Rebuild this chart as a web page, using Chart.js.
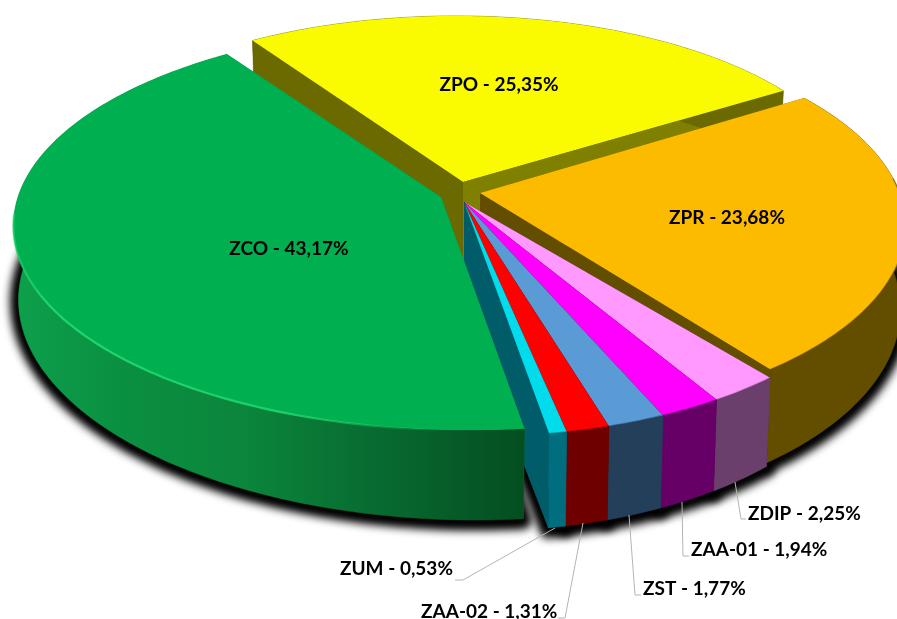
<!DOCTYPE html>
<html>
<head>
<meta charset="utf-8">
<style>html,body{margin:0;padding:0;background:#fff}canvas{display:block}</style>
<script src="https://cdn.jsdelivr.net/npm/chart.js@4"></script>
</head>
<body>
<canvas id="c" width="897" height="619"></canvas>
<script>
const categories = ['ZCO','ZPO','ZPR','ZDIP','ZAA-01','ZST','ZAA-02','ZUM'];
const shares = [43.17,25.35,23.68,2.25,1.94,1.77,1.31,0.53];
const topColors = ['#00B050','#FAFA00','#FDBB00','#FF99FF','#FF00FF','#5B9BD5','#FF0000','#00DCEC'];

// view parameters of each exploded slice (apex, radii, perspective, wall depth, depth under the apex)
const viewSmall = {ax:464,ay:202,R:388,Rv:169,k:.28,m:-.018,d:68,apd:108};
const views = [
  {ax:441,ay:197,R:445,Rv:198,k:.15,m:-.052,d:76,apd:80},
  {ax:463,ay:182,R:404,Rv:181,k:.09,m:.019,d:80,apd:80},
  {ax:480,ay:193,R:412,Rv:190,k:.165,m:-.018,d:80,apd:80},
  viewSmall,viewSmall,viewSmall,viewSmall,viewSmall
];
const sideColors = ['#0A8A3F','#6A6A00','#634E00','#6B3F6B','#660066','#243F5A','#6E0000','#006E7E'];
const cutColors = ['#0A8A3F','#6A6A00','#634E00','#6B3F6B','#660066','#243F5A','#6E0000','#005C68'];
const SHRINK = .988;
const paintOrder = [1,2,3,4,5,6,7,0];
// label layout: [text left, baseline] and leader polyline
const labelLayout = [
  {c:[289,249]},{c:[499,85]},{c:[727,218]},
  {l:[748,520],line:[[735,482],[741,519],[746,519]]},
  {l:[691,556],line:[[682,502],[683,556],[689,556]]},
  {l:[643,595],line:[[629,515],[635,595],[641,595]]},
  {l:[421,618],line:[[583,523],[565,618],[558,618]]},
  {l:[340,575],line:[[555,528],[463,580],[455,580]]}
];

function pt(v,th,bottom){
  const s=Math.sin(th),c=Math.cos(th),f=1/(1+v.k*c+v.m*s);
  const x=v.R*s*f,y=-v.Rv*c*f;
  return bottom?[v.ax+x*SHRINK,v.ay+y+v.d*f]:[v.ax+x,v.ay+y];
}
function arcPts(v,a,b,bottom){
  const n=Math.max(2,Math.ceil((b-a)/(Math.PI/180))),o=[];
  for(let i=0;i<=n;i++)o.push(pt(v,a+(b-a)*i/n,bottom));
  return o;
}
function poly(ctx,pts,open,dx){
  dx=dx||0;
  ctx.beginPath();pts.forEach((p,i)=>i?ctx.lineTo(p[0]+dx,p[1]):ctx.moveTo(p[0]+dx,p[1]));if(!open)ctx.closePath();
}
const RAD=Math.PI/180;
const pie3d={
  id:'pie3d',
  beforeDatasetsDraw(chart){
    const ctx=chart.ctx,arcs=chart.getDatasetMeta(0).data;
    const ang=arcs.map(e=>[e.startAngle+Math.PI/2,e.endAngle+Math.PI/2]);
    ctx.save();
    // soft cast shadow: shapes are painted off-canvas so only their blurred shadow lands on the page
    const FAR=3000;
    ctx.shadowColor='#000';ctx.shadowBlur=8;ctx.shadowOffsetX=FAR;ctx.shadowOffsetY=2;
    ctx.fillStyle='#000';ctx.strokeStyle='#000';ctx.lineWidth=17;ctx.lineJoin='round';
    ang.forEach((a,i)=>{
      const v=views[i];
      poly(ctx,[[v.ax,v.ay+v.apd],...arcPts(v,a[0],a[1],true)],false,-FAR);ctx.fill();ctx.stroke();
    });
    ctx.lineJoin='miter';
    ctx.shadowColor='transparent';ctx.shadowBlur=0;ctx.shadowOffsetX=0;ctx.shadowOffsetY=0;
    paintOrder.forEach(i=>{
      const v=views[i],[a,b]=ang[i];
      const ap=[v.ax,v.ay],apB=[v.ax,v.ay+v.apd];
      // cut faces
      const lightCut=i===1?'#808000':cutColors[i];
      poly(ctx,[ap,pt(v,b),pt(v,b,true),apB]);ctx.fillStyle=lightCut;ctx.fill();
      poly(ctx,[ap,pt(v,a),pt(v,a,true),apB]);ctx.fillStyle=cutColors[i];ctx.fill();
      // outer wall
      const rimT=arcPts(v,a,b,false),rimB=arcPts(v,a,b,true).reverse();
      poly(ctx,[...rimT,...rimB]);
      if(i===0){
        const g=ctx.createLinearGradient(14,0,522,0);
        g.addColorStop(0,'#0EA04C');g.addColorStop(.2,'#0A9041');g.addColorStop(.45,'#0B863C');
        g.addColorStop(.7,'#086C31');g.addColorStop(1,'#044F20');
        ctx.fillStyle=g;
      }else ctx.fillStyle=sideColors[i];
      ctx.fill();
      ctx.strokeStyle=ctx.fillStyle;ctx.lineWidth=.5;ctx.stroke();
      // top face
      poly(ctx,[ap,...rimT]);ctx.fillStyle=topColors[i];ctx.fill();
      // rim edge
      if(i===0){
        poly(ctx,arcPts(v,a,265*RAD,false),true);
        const h=ctx.createLinearGradient(14,0,522,0);
        h.addColorStop(0,'rgba(30,214,110,.6)');h.addColorStop(.07,'rgba(30,214,110,1)');
        h.addColorStop(.55,'rgba(30,214,110,.9)');h.addColorStop(.85,'rgba(30,214,110,0)');
        ctx.strokeStyle=h;ctx.lineWidth=2.2;ctx.stroke();
      }else if(i!==1){
        const from=i===2?a+28*RAD:a;
        poly(ctx,arcPts(v,from,b,false),true);
        ctx.globalAlpha=.45;ctx.strokeStyle=sideColors[i];ctx.lineWidth=1.6;ctx.stroke();ctx.globalAlpha=1;
      }
    });
    ctx.restore();
    return false;
  },
  afterDraw(chart){
    const ctx=chart.ctx;
    ctx.save();
    ctx.font='bold 19px Lato';ctx.fillStyle='#000';ctx.textBaseline='alphabetic';
    categories.forEach((name,i)=>{
      const t=name+' - '+shares[i].toFixed(2).replace('.',',')+'%',o=labelLayout[i];
      if(o.c){ctx.textAlign='center';ctx.fillText(t,o.c[0],o.c[1]+6);}
      else{
        ctx.textAlign='left';ctx.fillText(t,o.l[0],o.l[1]);
        poly(ctx,o.line,true);
        ctx.strokeStyle='#B4B4B4';ctx.lineWidth=1;ctx.stroke();
      }
    });
    ctx.restore();
  }
};
new Chart(document.getElementById('c'),{
  type:'pie',
  data:{labels:categories,datasets:[{data:shares,backgroundColor:topColors,borderWidth:0}]},
  options:{responsive:false,animation:false,rotation:170.9,
    plugins:{legend:{display:false},tooltip:{enabled:false}},layout:{padding:0}},
  plugins:[pie3d]
});
</script>
</body>
</html>
